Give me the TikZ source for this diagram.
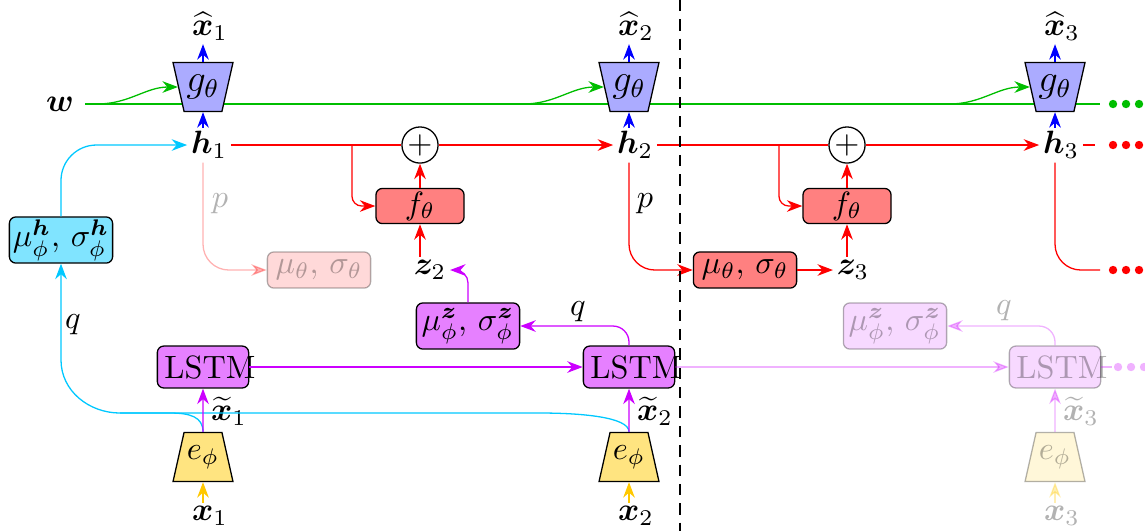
\documentclass[tikz,border=0pt]{standalone}
\usepackage{bm}
\usetikzlibrary{shapes.geometric,arrows.meta}
\definecolor{wgreen}{RGB}{0,190,0}
\definecolor{qcyan}{RGB}{0,200,255}
\definecolor{lpurple}{RGB}{204,0,255}
\definecolor{eyellow}{RGB}{255,200,0}
\tikzset{
  dec/.style={draw,fill=blue!33,trapezium,shape border rotate=180,trapezium stretches=true,
    trapezium angle=68,minimum width=18.6pt,minimum height=15.2pt,inner sep=0pt,font=\large},
  enc/.style={draw,fill=eyellow!50,trapezium,trapezium stretches=true,
    trapezium angle=68,minimum width=18.6pt,minimum height=15.2pt,inner sep=0pt},
  gaussbox/.style={draw,rounded corners=2pt,inner sep=0pt,minimum width=32pt},
  lstm/.style={draw,rounded corners=2pt,fill=lpurple!50,text width=23.9pt,align=left,
    inner xsep=2.2pt,inner ysep=0pt,minimum height=13pt},
  plusnode/.style={circle,draw,minimum size=11.2pt,inner sep=0pt},
  lab/.style={inner sep=1pt},
}
\begin{document}
\begin{tikzpicture}[x=0.0109cm,y=-0.0109cm,>=Stealth]
\useasboundingbox (0,0) rectangle (1145,531);
% decoder row
\node (w) at (60,104) {$\bm{w}$};
\coordinate (wend) at (1100,104);
\draw[wgreen] (w.east) -- (wend);
\foreach \i/\x in {1/203,2/629,3/1055}{
  \node[dec] (g\i) at (\x,87) {$g_\theta$};
  \node[lab] (xh\i) at (\x+7,26) {$\widehat{\bm{x}}_\i$};
  \node[lab] (h\i) at (\x+6,145) {$\bm{h}_\i$};
  \coordinate (wg\i) at (\x-106,104);
  \draw[blue,->] (g\i.north) -- (g\i.north |- xh\i.south);
  \draw[blue,->] (g\i.south |- h\i.north) -- (g\i.south);
  \draw[wgreen,->] (wg\i) to[out=0,in=180] (g\i.west);
}
\foreach \y/\c in {104/wgreen,145/red,270/red}
  \foreach \d in {0,1,2} \fill[\c] (1113+13*\d,\y) circle (1.3pt);
% transition
\node[plusnode] (plus1) at (420,145) {$+$};
\node[plusnode] (plus2) at (847,145) {$+$};
\node[gaussbox,fill=red!50,minimum width=27.3pt,minimum height=10.9pt] (f1) at (420,206) {$f_\theta$};
\node[gaussbox,fill=red!50,minimum width=27.3pt,minimum height=10.9pt] (f2) at (847,206) {$f_\theta$};
\node[lab] (z2) at (430,270) {$\bm{z}_2$};
\node[lab] (z3) at (853,270) {$\bm{z}_3$};
\coordinate (br1) at (352,145);
\coordinate (br2) at (779,145);
\coordinate (hend) at (1100,270);
\draw[red] (h1.east) -- (plus1.west);
\draw[red,->] (plus1.east) -- (h2.west);
\draw[red] (h2.east) -- (plus2.west);
\draw[red,->] (plus2.east) -- (h3.west);
\draw[red] (h3.east) -- (1095,145);
\draw[red,->,rounded corners=3pt] (br1) |- (f1.west);
\draw[red,->,rounded corners=3pt] (br2) |- (f2.west);
\draw[red,->] (f1.north) -- (plus1.south);
\draw[red,->] (f2.north) -- (plus2.south);
\draw[red,->] (f1.south |- z2.north) -- (f1.south);
\draw[red,->] (f2.south |- z3.north) -- (f2.south);
% prior
\node[gaussbox,fill=red!50,minimum height=11.2pt] (muth2) at (745,270) {$\mu_\theta$, $\sigma_\theta$};
\draw[red,->,rounded corners=8pt] (h2.south -| g2.center) |- (muth2.west);
\node at (645,204) {$p$};
\draw[red,->] (muth2.east) -- (z3.west);
\draw[red,rounded corners=8pt] (h3.south -| g3.center) |- (hend);
\begin{scope}[opacity=0.3]
  \node[gaussbox,fill=red!50,minimum height=11.2pt] (muth1) at (319,270) {$\mu_\theta$, $\sigma_\theta$};
  \draw[red,->,rounded corners=8pt] (h1.south -| g1.center) |- (muth1.west);
  \node at (220,204) {$p$};
\end{scope}
% encoder row
\foreach \i/\x/\o in {1/203/1,2/629/1,3/1055/0.3}{
  \begin{scope}[opacity=\o]
  \node[enc] (e\i) at (\x,457) {$e_\phi$};
  \node[lab] (x\i) at (\x+7,516) {$\bm{x}_\i$};
  \node[lab] (xt\i) at (\x+26,411) {$\widetilde{\bm{x}}_\i$};
  \node[lstm] (lstm\i) at (\x,367) {LSTM};
  \draw[eyellow,->] (e\i.south |- x\i.north) -- (e\i.south);
  \end{scope}
}
% posterior h
\node[gaussbox,fill=qcyan!50,minimum height=14.3pt] (muh) at (61,240) {$\mu_\phi^{\bm h}$, $\sigma_\phi^{\bm h}$};
\node at (73,325) {$q$};
\coordinate (qjoin) at (120,413);
\draw[qcyan,->,rounded corners=11pt] (muh.north) |- (h1.west);
\draw[qcyan,->] (e1.north) .. controls +(0,-15) and +(20,0) .. (170,413) -- (qjoin)
  to[out=180,in=-90] (61,360) -- (muh.south);
\draw[qcyan] (e2.north) .. controls +(0,-15) and +(40,0) .. (540,413) -- (qjoin);
\foreach \i/\o in {1/1,2/1,3/0.3}
  \draw[lpurple,->,opacity=\o] (e\i.north) -- (lstm\i.south);
% posterior z
\node[gaussbox,fill=lpurple!50,minimum height=14.3pt] (muz2) at (468,326) {$\mu_\phi^{\bm z}$, $\sigma_\phi^{\bm z}$};
\node at (578,312) {$q$};
\draw[lpurple,->] (lstm1.east) -- (lstm2.west);
\draw[lpurple,->,rounded corners=5pt] (lstm2.north) |- (muz2.east);
\draw[lpurple,->,rounded corners=4pt] (muz2.north) |- (z2.east);
\begin{scope}[opacity=0.3]
  \node[gaussbox,fill=lpurple!50,minimum height=14.3pt] (muz3) at (895,326) {$\mu_\phi^{\bm z}$, $\sigma_\phi^{\bm z}$};
  \node at (1004,311) {$q$};
  \draw[lpurple,->] (lstm2.east) -- (lstm3.west);
  \draw[lpurple,->,rounded corners=5pt] (lstm3.north) |- (muz3.east);
  \draw[lpurple] (lstm3.east) -- (1112,367);
  \foreach \d in {0,1,2} \fill[lpurple] (1118+13*\d,367) circle (1.3pt);
\end{scope}
% time step separator
\draw[dashed,line width=0.6pt,dash pattern=on 3.5pt off 2.5pt] (680,0) -- (680,531);
\end{tikzpicture}
\end{document}
